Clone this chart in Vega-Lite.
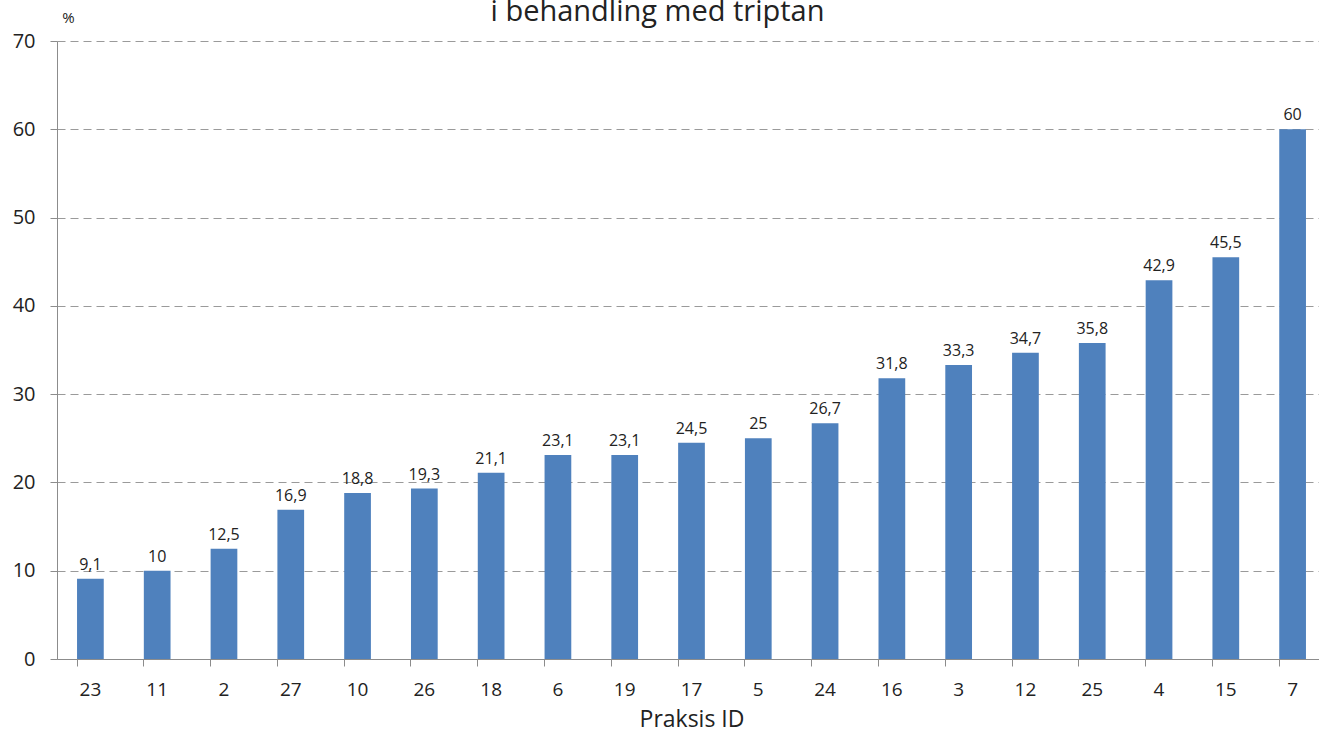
{
  "$schema": "https://vega.github.io/schema/vega-lite/v6.json",
  "autosize": {"type": "none"},
  "padding": {"left": 57, "top": 41, "right": 0, "bottom": 74},
  "width": 1269,
  "height": 618,
  "background": "white",
  "title": {
    "text": "i behandling med triptan",
    "fontSize": 29,
    "font": "Open Sans",
    "fontWeight": "normal",
    "color": "#222222",
    "anchor": "middle",
    "frame": "group",
    "baseline": "alphabetic",
    "offset": 16,
    "dx": -34,
    "dy": 56
  },
  "data": {
    "values": [
      {"id": "23", "value": 9.1, "label": "9,1"},
      {"id": "11", "value": 10, "label": "10"},
      {"id": "2", "value": 12.5, "label": "12,5"},
      {"id": "27", "value": 16.9, "label": "16,9"},
      {"id": "10", "value": 18.8, "label": "18,8"},
      {"id": "26", "value": 19.3, "label": "19,3"},
      {"id": "18", "value": 21.1, "label": "21,1"},
      {"id": "6", "value": 23.1, "label": "23,1"},
      {"id": "19", "value": 23.1, "label": "23,1"},
      {"id": "17", "value": 24.5, "label": "24,5"},
      {"id": "5", "value": 25, "label": "25"},
      {"id": "24", "value": 26.7, "label": "26,7"},
      {"id": "16", "value": 31.8, "label": "31,8"},
      {"id": "3", "value": 33.3, "label": "33,3"},
      {"id": "12", "value": 34.7, "label": "34,7"},
      {"id": "25", "value": 35.8, "label": "35,8"},
      {"id": "4", "value": 42.9, "label": "42,9"},
      {"id": "15", "value": 45.5, "label": "45,5"},
      {"id": "7", "value": 60, "label": "60"}
    ]
  },
  "encoding": {
    "x": {
      "field": "id",
      "type": "nominal",
      "sort": null,
      "scale": {"paddingInner": 0.6, "paddingOuter": 0.3},
      "axis": {
        "title": "Praksis ID",
        "titleFontSize": 23,
        "titleFont": "Open Sans",
        "titleFontWeight": "normal",
        "titleColor": "#222222",
        "titlePadding": 9,
        "labelAngle": 0,
        "labelFontSize": 19,
        "labelFont": "Open Sans",
        "labelColor": "#222222",
        "labelPadding": 14,
        "bandPosition": 0,
        "ticks": true,
        "tickSize": 7,
        "tickColor": "#8c8c8c",
        "domainColor": "#8c8c8c",
        "grid": false
      }
    },
    "y": {
      "field": "value",
      "type": "quantitative",
      "scale": {"domain": [0, 70], "nice": false},
      "axis": {
        "values": [0, 10, 20, 30, 40, 50, 60, 70],
        "title": "%",
        "titleAngle": 0,
        "titleFontSize": 15,
        "titleFont": "Open Sans",
        "titleFontWeight": "normal",
        "titleColor": "#222222",
        "titleAlign": "center",
        "titleBaseline": "middle",
        "titleX": 11,
        "titleY": -24,
        "labelFontSize": 20,
        "labelFont": "Open Sans",
        "labelColor": "#222222",
        "labelPadding": 15,
        "tickSize": 7,
        "tickColor": "#8c8c8c",
        "domainColor": "#8c8c8c",
        "grid": true,
        "gridColor": "#9a9a9a",
        "gridDash": [8, 5],
        "gridWidth": 1.2
      }
    }
  },
  "layer": [
    {"mark": {"type": "bar", "color": "#4F81BD"}},
    {
      "mark": {"type": "text", "baseline": "alphabetic", "dy": -9, "fontSize": 16, "font": "Open Sans", "color": "#222222"},
      "encoding": {"text": {"field": "label"}}
    }
  ],
  "config": {"view": {"stroke": null}}
}
